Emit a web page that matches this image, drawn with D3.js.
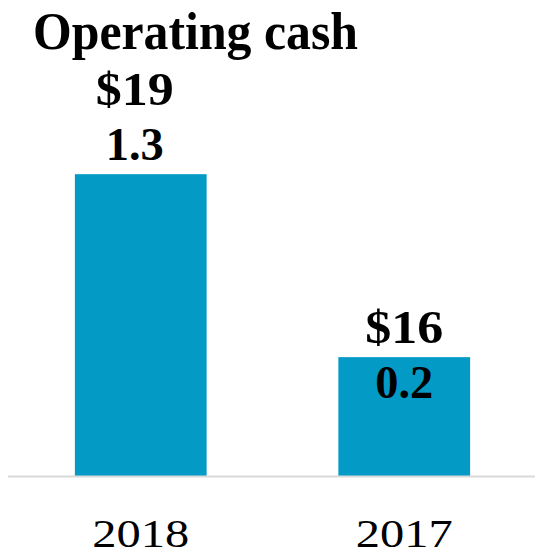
<!DOCTYPE html>
<html>
<head>
<meta charset="utf-8">
<script src="https://cdn.jsdelivr.net/npm/d3@7"></script>
<style>
  html, body { margin: 0; padding: 0; background: #fff; }
  svg { display: block; }
  text { font-family: "Liberation Serif", "DejaVu Serif", serif; fill: #000; }
</style>
</head>
<body>
<svg id="chart" width="535" height="557"></svg>
<script>
// Operating cash, in millions of dollars
const categories = ["2018", "2017"];
const values = [191.3, 160.2];
const valueLabels = [["$19", "1.3"], ["$16", "0.2"]];
const chartTitle = "Operating cash";

const width = 535, height = 557;
const svg = d3.select("#chart");

const x = d3.scaleBand()
  .domain(categories)
  .range([9, 536])
  .paddingInner(0.5)
  .paddingOuter(0.25);

// value axis does not start at zero
const y = d3.scaleLinear()
  .domain([140, 200])
  .range([476, 123]);

// title
svg.append("text")
  .attr("x", 33)
  .attr("y", 49)
  .attr("font-size", 52)
  .attr("font-weight", "bold")
  .attr("textLength", 325)
  .attr("lengthAdjust", "spacingAndGlyphs")
  .text(chartTitle);

// bars
svg.selectAll("rect.bar")
  .data(values)
  .join("rect")
  .attr("class", "bar")
  .attr("x", (d, i) => x(categories[i]))
  .attr("width", x.bandwidth())
  .attr("y", d => y(d))
  .attr("height", d => y(y.domain()[0]) - y(d))
  .attr("fill", "#039ac6");

// baseline
svg.append("line")
  .attr("x1", 8).attr("x2", width)
  .attr("y1", y(y.domain()[0]) + 0.5).attr("y2", y(y.domain()[0]) + 0.5)
  .attr("stroke", "#d9d9d9")
  .attr("stroke-width", 2);

// category axis labels
const xAxis = d3.axisBottom(x).tickSize(0).tickPadding(0);
const gx = svg.append("g")
  .attr("transform", `translate(0,${y(y.domain()[0])})`)
  .call(xAxis);
gx.select(".domain").remove();
gx.selectAll(".tick text")
  .attr("y", 71)
  .attr("dy", 0)
  .attr("font-size", 39)
  .attr("font-family", "Liberation Serif, serif")
  .attr("fill", "#000")
  .attr("textLength", 97)
  .attr("lengthAdjust", "spacingAndGlyphs");

// wrapped value labels
const lineGap = 55;
valueLabels.forEach((lines, i) => {
  const cx = x(categories[i]) + x.bandwidth() / 2 - (i === 0 ? 6 : 0);
  const top = y(values[i]);
  const linesAbove = i === 0 ? 2 : 1;
  lines.forEach((t, j) => {
    svg.append("text")
      .attr("x", cx)
      .attr("y", top - 14 - (linesAbove - 1 - j) * lineGap)
      .attr("text-anchor", "middle")
      .attr("font-size", 47)
      .attr("font-weight", "bold")
      .attr("textLength", t.includes(".") ? 58 : 78)
      .attr("lengthAdjust", "spacingAndGlyphs")
      .text(t);
  });
});
</script>
</body>
</html>
